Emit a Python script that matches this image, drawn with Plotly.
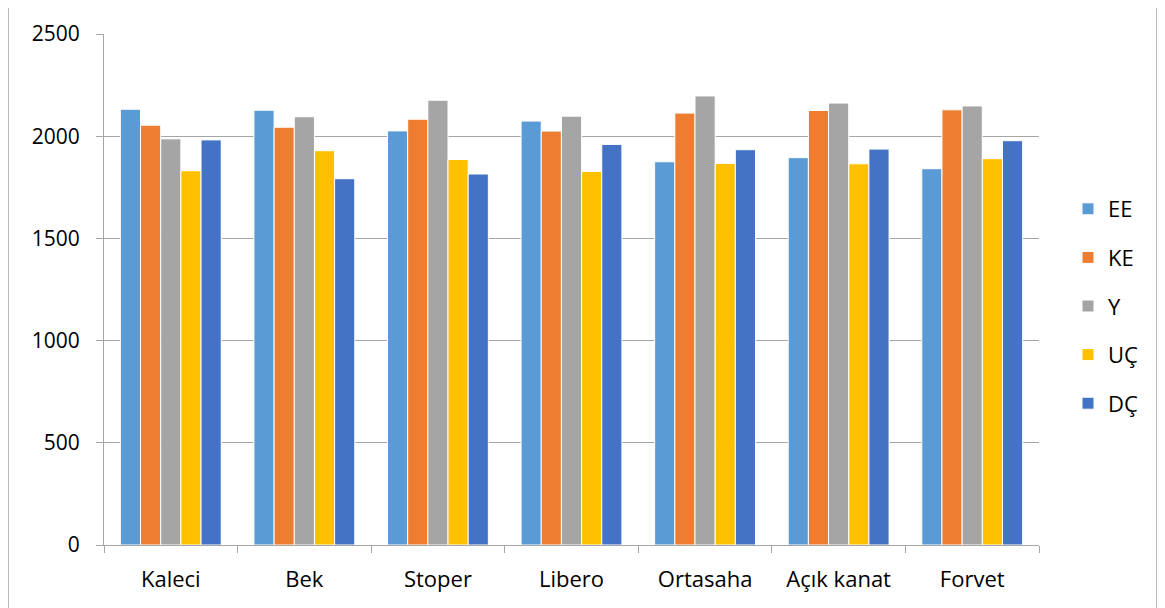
import plotly.graph_objects as go

categories = ["Kaleci", "Bek", "Stoper", "Libero", "Ortasaha", "Açık kanat", "Forvet"]
EE = [2132, 2127, 2026, 2074, 1875, 1895, 1841]
KE = [2054, 2044, 2083, 2025, 2113, 2126, 2129]
Y = [1987, 2095, 2176, 2098, 2197, 2162, 2148]
UC = [1831, 1929, 1886, 1828, 1867, 1865, 1890]
DC = [1982, 1792, 1815, 1960, 1934, 1937, 1978]

series = [("EE", EE, "#5B9BD5"), ("KE", KE, "#ED7D31"), ("Y", Y, "#A5A5A5"),
          ("UÇ", UC, "#FFC000"), ("DÇ", DC, "#4472C4")]

# page body has an 8px margin; work in figure coordinates = page - 8
OFF = 8
W, H = 1165 - OFF, 608 - OFF
L, R, T, B = 104 - OFF, 1039 - OFF, 34 - OFF, 545 - OFF

fig = go.Figure()
for name, vals, col in series:
    fig.add_trace(go.Bar(x=categories, y=vals, name=name, legendgroup=name,
                         marker=dict(color=col, line=dict(color="white", width=1))))

font = "Open Sans, Noto Sans, sans-serif"
pw, ph = R - L, B - T
def px_x(p):
    return (p - OFF - L) / pw
def px_y(p):
    return (B - (p - OFF)) / ph

fig.update_layout(
    width=W, height=H,
    margin=dict(l=L, r=W - R, t=T, b=H - B, pad=0),
    paper_bgcolor="white", plot_bgcolor="white",
    barmode="group", bargap=0.245, bargroupgap=0,
    font=dict(family=font, size=21, color="#000000"),
    legend=dict(x=px_x(1068), y=px_y(188), xanchor="left", yanchor="top",
                tracegroupgap=17, font=dict(size=22), itemwidth=30),
    xaxis=dict(type="category", showgrid=False, showline=True, linecolor="#A6A6A6",
               linewidth=1, ticks="outside", tickson="boundaries", ticklen=7,
               tickcolor="#A6A6A6", tickfont=dict(size=22), ticklabelstandoff=15),
    yaxis=dict(range=[0, 2500], dtick=500, showgrid=True, gridcolor="#A6A6A6",
               gridwidth=1, showline=True, linecolor="#A6A6A6", linewidth=1,
               ticks="outside", ticklen=7, tickcolor="#A6A6A6",
               tickfont=dict(size=21), ticklabelstandoff=12, zeroline=False),
)

fig.add_shape(type="rect", xref="paper", yref="paper",
              x0=px_x(8), x1=px_x(1157), y0=px_y(612), y1=px_y(4),
              line=dict(color="#A6A6A6", width=1.5), fillcolor="rgba(0,0,0,0)", layer="below")

fig.write_html("out.html")
